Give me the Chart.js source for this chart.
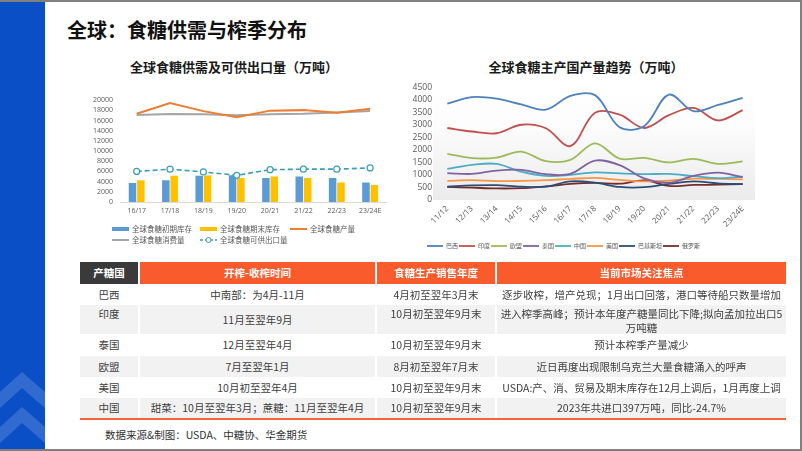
<!DOCTYPE html>
<html><head><meta charset="utf-8">
<script src="https://cdn.jsdelivr.net/npm/chart.js@4.4.1/dist/chart.umd.min.js"></script>
<style>
html,body{margin:0;padding:0;}
body{width:802px;height:451px;position:relative;overflow:hidden;background:#fff;font-family:"Noto Sans CJK SC","Noto Sans",sans-serif;}
.frame{position:absolute;left:0;top:0;width:802px;height:451px;box-sizing:border-box;border-top:2px solid #808080;border-right:2px solid #808080;border-bottom:2px solid #808080;z-index:5;pointer-events:none;}
.txt{position:absolute;white-space:nowrap;}
.ctitle{position:absolute;width:300px;text-align:center;font-size:13px;font-weight:bold;line-height:18px;color:#1a1a1a;top:58px;}
#tbl{position:absolute;left:78px;top:262px;border-collapse:separate;border-spacing:2px 0;table-layout:fixed;width:710px;font-size:10.5px;color:#404040;}
#tbl td,#tbl th{padding:0;text-align:center;white-space:nowrap;line-height:13.5px;overflow:hidden;vertical-align:middle;}
#tbl th{color:#fff;background:#F95B2D;font-weight:bold;}
#tbl th.dk{background:#3A3A3A;}
#tbl tr.g td{background:#F2F2F2;}
#tbl td.t{vertical-align:top;padding-top:2px;}
.cv{position:absolute;}
</style></head>
<body>
<svg style="position:absolute;left:0;top:0" width="45" height="451">
  <rect x="0" y="0" width="45" height="451" fill="#0B4FC6"/>
  <polygon points="0,392 22,372 45,392 45,408 22,388 0,408" fill="#ffffff" fill-opacity="0.16"/>
  <polygon points="0,427 22,407 45,427 45,443 22,423 0,443" fill="#ffffff" fill-opacity="0.16"/>
</svg>
<div class="frame"></div>
<div class="txt" style="left:67px;top:18px;font-size:20px;line-height:24px;font-weight:bold;color:#111;">全球：食糖供需与榨季分布</div>
<div class="ctitle" style="left:84px;">全球食糖供需及可供出口量（万吨）</div>
<div class="ctitle" style="left:436px;">全球食糖主产国产量趋势（万吨）</div>

<div class="cv" style="left:79px;top:89px;width:313px;height:165px;"><canvas id="c1"></canvas></div>
<div class="cv" style="left:372px;top:79px;width:388px;height:180px;"><canvas id="c2"></canvas></div>

<table id="tbl">
<colgroup><col style="width:58px"><col style="width:235px"><col style="width:118px"><col style="width:289px"></colgroup>
<tr style="height:22px"><th class="dk">产糖国</th><th>开榨-收榨时间</th><th>食糖生产销售年度</th><th>当前市场关注焦点</th></tr>
<tr style="height:21px"><td>巴西</td><td>中南部：为4月-11月</td><td>4月初至翌年3月末</td><td>逐步收榨，增产兑现；1月出口回落，港口等待船只数量增加</td></tr>
<tr class="g" style="height:29px"><td class="t">印度</td><td>11月至翌年9月</td><td class="t">10月初至翌年9月末</td><td class="t">进入榨季高峰；预计本年度产糖量同比下降;拟向孟加拉出口5<br>万吨糖</td></tr>
<tr style="height:22px"><td>泰国</td><td>12月至翌年4月</td><td>10月初至翌年9月末</td><td>预计本榨季产量减少</td></tr>
<tr class="g" style="height:21px"><td>欧盟</td><td>7月至翌年1月</td><td>8月初至翌年7月末</td><td>近日再度出现限制乌克兰大量食糖涌入的呼声</td></tr>
<tr style="height:21px"><td>美国</td><td>10月初至翌年4月</td><td>10月初至翌年9月末</td><td>USDA:产、消、贸易及期末库存在12月上调后，1月再度上调</td></tr>
<tr class="g" style="height:20px"><td>中国</td><td>甜菜：10月至翌年3月；蔗糖：11月至翌年4月</td><td>10月初至翌年9月末</td><td>2023年共进口397万吨，同比-24.7%</td></tr>
</table>
<div style="position:absolute;left:80px;top:418px;width:706px;height:2px;background:#F4633A;"></div>
<div class="txt" style="left:105px;top:428px;font-size:10.5px;line-height:14px;color:#333;">数据来源&amp;制图：USDA、中糖协、华金期货</div>

<script>
// ---- left chart data ----
const seasons = ['16/17','17/18','18/19','19/20','20/21','21/22','22/23','23/24E'];
const beginStock = [3750, 4250, 5150, 5250, 4700, 5000, 4700, 3850];
const endStock   = [4250, 5150, 5200, 4700, 5000, 4700, 3850, 3350];
const production = [17350, 19450, 17850, 16650, 17950, 18050, 17550, 18300];
const consumption= [17100, 17300, 17250, 17050, 17250, 17350, 17600, 17900];
const exportable = [6000, 6450, 5900, 5250, 6350, 6450, 6450, 6700];
const leftLabels = ['全球食糖初期库存','全球食糖期末库存','全球食糖产量','全球食糖消费量','全球食糖可供出口量'];

// ---- right chart data ----
const years = ['11/12','12/13','13/14','14/15','15/16','16/17','17/18','18/19','19/20','20/21','21/22','22/23','23/24E'];
const brazil   = [3840, 4100, 4040, 3810, 3600, 4150, 4180, 2900, 2950, 4200, 3540, 3790, 4070];
const india    = [2870, 2730, 2660, 3000, 2860, 2150, 3480, 3400, 2870, 3380, 3670, 3170, 3580];
const eu       = [1840, 1670, 1690, 1930, 1550, 1600, 2260, 1650, 1680, 1500, 1640, 1440, 1540];
const thailand = [1070, 1040, 1170, 1200, 1030, 1040, 1570, 1390, 860, 690, 960, 1090, 910];
const china    = [1240, 1400, 1440, 1130, 960, 1000, 1100, 1060, 1030, 1040, 950, 870, 930];
const usa      = [760, 790, 750, 760, 790, 840, 880, 800, 740, 770, 850, 840, 820];
const pakistan = [530, 580, 590, 530, 530, 740, 690, 520, 510, 640, 740, 660, 630];
const russia   = [520, 490, 460, 470, 540, 640, 680, 650, 780, 560, 600, 610, 630];
const countries = ['巴西','印度','欧盟','泰国','中国','美国','巴基斯坦','俄罗斯'];

const tickFont = "'Open Sans','Noto Sans CJK SC',sans-serif";
const cjkFont = "'Noto Sans CJK SC','Noto Sans',sans-serif";

function legendImg(kind, color) {
  const c = document.createElement('canvas');
  c.width = 17; c.height = 8;
  const g = c.getContext('2d');
  if (kind === 'bar') { g.fillStyle = color; g.fillRect(0, 2, 17, 4); }
  else if (kind === 'line') { g.strokeStyle = color; g.lineWidth = 2; g.beginPath(); g.moveTo(0, 4); g.lineTo(17, 4); g.stroke(); }
  else {
    g.strokeStyle = color; g.lineWidth = 1.5; g.setLineDash([3, 2]);
    g.beginPath(); g.moveTo(0, 4); g.lineTo(17, 4); g.stroke();
    g.setLineDash([]); g.fillStyle = '#fff'; g.lineWidth = 1;
    g.beginPath(); g.arc(8.5, 4, 2.5, 0, Math.PI * 2); g.fill(); g.stroke();
  }
  return c;
}
const cBlue = '#5B9BD5', cYellow = '#FFC000', cOrange = '#ED7D31', cGray = '#A5A5A5', cTeal = '#3A9DBB';
const leftImgs = [legendImg('bar', cBlue), legendImg('bar', cYellow), legendImg('line', cOrange), legendImg('line', cGray), legendImg('dash', cTeal)];

// legend of left chart: two rows, three columns (like the source)
const leftLegend = {
  id: 'leftLegend',
  afterDraw(chart) {
    const { ctx, chartArea: a } = chart;
    const cols = [-8, 80, 170];
    const rows = [27.3, 38];
    const slots = [[0, 0], [0, 1], [0, 2], [1, 0], [1, 1]];
    ctx.save();
    ctx.font = '7.5px ' + cjkFont;
    ctx.textBaseline = 'middle';
    ctx.textAlign = 'left';
    ctx.fillStyle = '#595959';
    chart.data.datasets.forEach((ds, i) => {
      const [r, c] = slots[i];
      const x = Math.round(a.left + cols[c]), y = Math.round(a.bottom + rows[r]);
      ctx.drawImage(leftImgs[i], x, y - 4);
      ctx.fillText(ds.label, x + 20, y);
    });
    ctx.restore();
  }
};

new Chart(document.getElementById('c1'), {
  data: {
    labels: seasons,
    datasets: [
      { type: 'bar', label: leftLabels[0], data: beginStock, backgroundColor: cBlue, order: 2, barPercentage: 0.9, categoryPercentage: 0.5 },
      { type: 'bar', label: leftLabels[1], data: endStock, backgroundColor: cYellow, order: 2, barPercentage: 0.9, categoryPercentage: 0.5 },
      { type: 'line', label: leftLabels[2], data: production, borderColor: cOrange, borderWidth: 2, pointRadius: 0, tension: 0, order: 1 },
      { type: 'line', label: leftLabels[3], data: consumption, borderColor: cGray, borderWidth: 2, pointRadius: 0, tension: 0, order: 1 },
      { type: 'line', label: leftLabels[4], data: exportable, borderColor: cTeal, borderWidth: 1.6, borderDash: [5, 3], pointRadius: 3, pointBackgroundColor: '#fff', pointBorderColor: cTeal, pointBorderWidth: 1.2, tension: 0, order: 0 }
    ]
  },
  options: {
    responsive: true, maintainAspectRatio: false, animation: false,
    layout: { padding: { left: 0, right: 5, top: 8, bottom: 31 } },
    plugins: { tooltip: { enabled: false }, legend: { display: false } },
    scales: {
      x: {
        grid: { display: false, drawTicks: false },
        border: { display: true, color: '#D9D9D9' },
        ticks: { font: { size: 7, family: tickFont }, color: '#595959', padding: 5, maxRotation: 0 },
        afterFit: (s) => { s.height = 21; }
      },
      y: {
        min: 0, max: 20000,
        grid: { display: false, drawTicks: false },
        border: { display: false },
        ticks: { stepSize: 2000, autoSkip: false, font: { size: 7, family: tickFont }, color: '#595959', padding: 7, callback: (v) => String(v) },
        afterFit: (s) => { s.width = 41; }
      }
    }
  },
  plugins: [leftLegend]
});

const palette = ['#4F81BD', '#C0504D', '#9BBB59', '#8064A2', '#4BACC6', '#F79646', '#2C4D75', '#772C2A'];
const seriesR = [brazil, india, eu, thailand, china, usa, pakistan, russia];

const bgPlugin = {
  id: 'plotBg',
  beforeDraw(chart) {
    const { ctx, chartArea: a } = chart;
    const g = ctx.createLinearGradient(0, a.top, 0, a.bottom);
    g.addColorStop(0, '#ffffff');
    g.addColorStop(0.35, '#fcfcfc');
    g.addColorStop(1, '#ebebeb');
    ctx.save();
    ctx.fillStyle = g;
    ctx.fillRect(a.left - 2, a.top, a.right - a.left + 2, a.bottom - a.top);
    ctx.restore();
  }
};

new Chart(document.getElementById('c2'), {
  type: 'line',
  data: {
    labels: years,
    datasets: seriesR.map((d, i) => ({
      label: countries[i], data: d, borderColor: palette[i], backgroundColor: palette[i],
      borderWidth: 1.8, pointRadius: 0, tension: 0.35, fill: false
    }))
  },
  options: {
    responsive: true, maintainAspectRatio: false, animation: false,
    layout: { padding: { left: 0, right: 5, top: 8, bottom: 0 } },
    plugins: {
      tooltip: { enabled: false },
      legend: {
        position: 'bottom', align: 'center',
        labels: { usePointStyle: true, pointStyle: 'line', pointStyleWidth: 16, padding: 1,
          font: { size: 6, family: cjkFont }, color: '#595959' }
      }
    },
    scales: {
      x: {
        offset: true,
        grid: { display: false, drawTicks: false },
        border: { display: false },
        ticks: { font: { size: 8, family: tickFont }, color: '#595959', padding: 4, minRotation: 45, maxRotation: 45, autoSkip: false },
        afterFit: (s) => { s.height = 42; }
      },
      y: {
        min: 0, max: 4500,
        grid: { display: false, drawTicks: false },
        border: { display: false },
        ticks: { stepSize: 500, autoSkip: false, font: { size: 8.5, family: tickFont }, color: '#595959', padding: 3, callback: (v) => String(v) },
        afterFit: (s) => { s.width = 63; }
      }
    }
  },
  plugins: [bgPlugin]
});
</script>
</body></html>
